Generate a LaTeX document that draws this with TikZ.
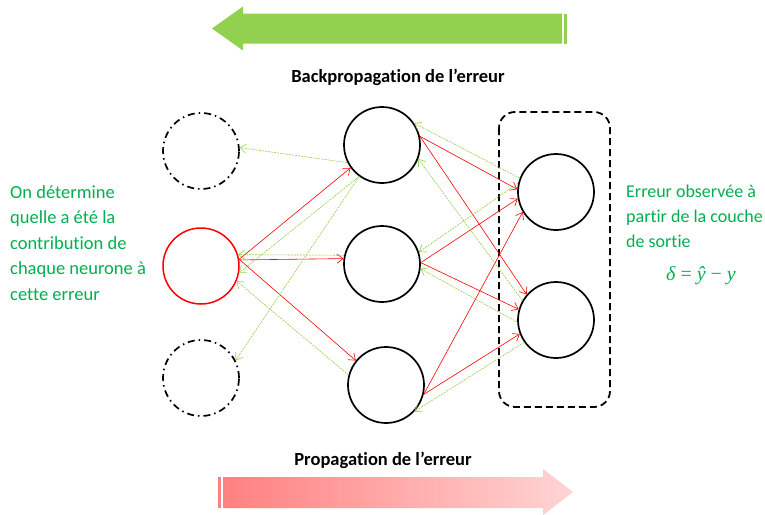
\documentclass[tikz,border=0pt]{standalone}
\usepackage{fontspec}
\setmainfont{Carlito}[Ligatures=NoCommon]
\newfontfamily\formulafont{Liberation Serif}
\usetikzlibrary{arrows.meta}
\definecolor{leafgreen}{HTML}{92D050}
\definecolor{textgreen}{HTML}{00B050}
\definecolor{pinkdark}{RGB}{255,128,128}
\definecolor{pinklight}{RGB}{255,212,212}
\begin{document}
\begin{tikzpicture}[x=1pt,y=-1pt,
  neuron/.style={circle, draw=black, line width=1.7pt, minimum size=76pt, inner sep=0pt},
  ghost/.style={neuron, dash pattern=on 7pt off 4pt on 1.5pt off 4pt},
  errneuron/.style={neuron, draw=red, line width=1.5pt},
  fwd/.style={draw=red, line width=0.6pt, -{Straight Barb[length=6pt,width=9pt]}},
  bwd/.style={draw=leafgreen, line width=0.6pt, dash pattern=on 2pt off 1pt, -{Straight Barb[length=6pt,width=9pt]}},
  heading/.style={font=\fontsize{18.5}{22}\selectfont\bfseries, inner sep=0pt, anchor=base},
  note/.style={text=textgreen, align=left, inner sep=0pt, anchor=base west}]
\clip (0,0) rectangle (765,514);
\fill[white] (0,0) rectangle (765,514);

% direction arrows
\fill[leafgreen] (212,28.5) -- (243,6.5) -- (243,13.5) -- (562,13.5) -- (562,43.5)
  -- (243,43.5) -- (243,50.5) -- cycle;
\fill[leafgreen] (564,13.5) rectangle (567,43.5);
\node[heading] (backlabel) at (398,82) {Backpropagation de l’erreur};

\fill[pinkdark] (218,477) rectangle (221,508);
\shade[left color=pinkdark, right color=pinklight] (223,477) -- (543,477) -- (543,469)
  -- (573,492) -- (543,515) -- (543,508) -- (223,508) -- cycle;
\node[heading] (fwdlabel) at (383,465) {Propagation de l’erreur};

% output layer frame
\draw[line width=1.8pt, dash pattern=on 7pt off 4pt, rounded corners=16pt]
  (499,112) rectangle (610,407);

% neurons
\node[ghost] (L1) at (201,151) {};
\node[errneuron] (L2) at (201,266) {};
\node[ghost] (L3) at (201,378) {};
\node[neuron] (H1) at (382,145) {};
\node[neuron] (H2) at (382,264) {};
\node[neuron] (H3) at (386,385) {};
\node[neuron] (O1) at (556,192) {};
\node[neuron] (O2) at (556,320) {};

% forward propagation
\draw[fwd] (L2.10) -- (H1.216);
\draw[fwd] (L2.9) -- (H2.172);
\draw[fwd] (L2.10) -- (H3.141);
\draw[fwd] (H1.13) -- (O1.176);
\draw[fwd] (H1.13) -- (O2.139);
\draw[fwd] (H2.2) -- (O1.190);
\draw[fwd] (H2.2) -- (O2.164);
\draw[fwd] (H3.346) -- (O1.211);
\draw[fwd] (H3.346) -- (O2.201);

% backpropagation
\draw[bwd] (H1.207) -- (L1.5);
\draw[bwd] (H1.234) -- (L2.350);
\draw[bwd] (H1.234) -- (L3.27);
\draw[bwd] (H2.167) -- (L2.17);
\draw[bwd] (H3.165) -- (L2.337);
\draw[bwd] (O1.159) -- (H1.34);
\draw[bwd] (O2.150) -- (H1.339);
\draw[bwd] (O1.167) -- (H2.18);
\draw[bwd] (O2.183) -- (H2.353);
\draw[bwd] (O2.215) -- (H3.317);

% annotations (a multi-line node sits on its last baseline)
\node[note, font=\fontsize{18.5}{25.5}\selectfont] (leftnote) at (10,300)
  {On détermine\\quelle a été la\\contribution de\\chaque neurone à\\cette erreur};
\node[note, font=\fontsize{18}{25}\selectfont] (rightnote) at (626,247)
  {Erreur observée à\\partir de la couche\\de sortie};
\node[text=textgreen, font=\fontsize{20}{22}\formulafont, inner sep=0pt, anchor=base] (delta) at (701,280)
  {{\itshape δ} = {\itshape ŷ} − {\itshape y}};
\end{tikzpicture}
\end{document}
